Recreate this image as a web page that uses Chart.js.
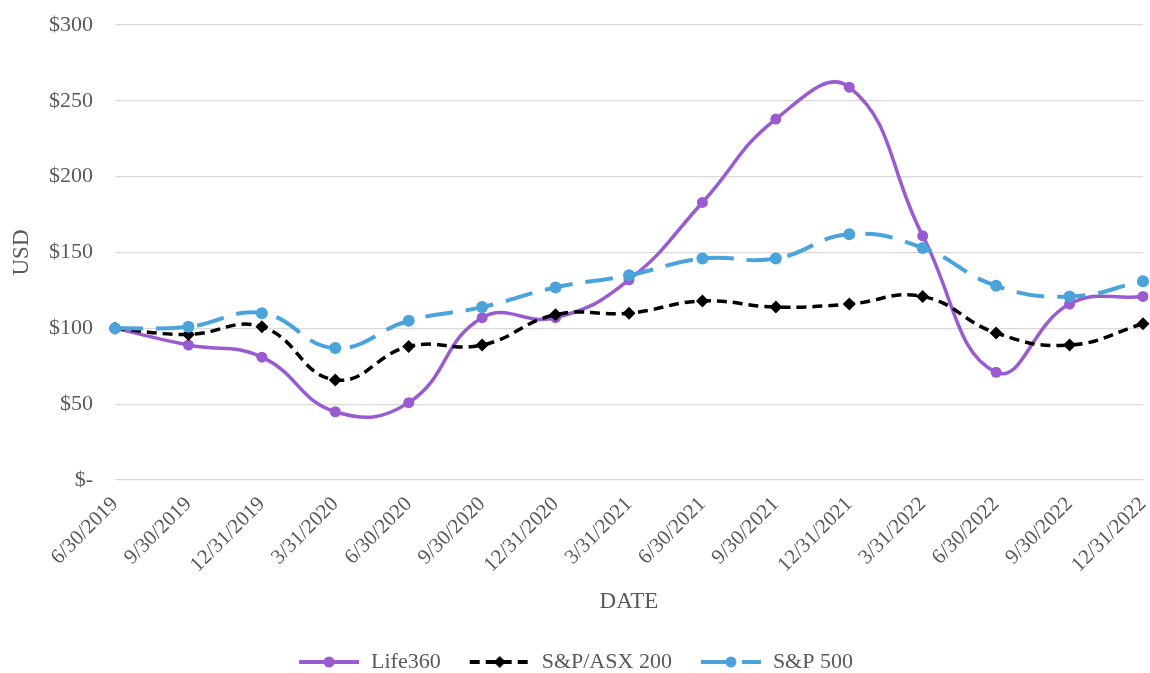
<!DOCTYPE html>
<html>
<head>
<meta charset="utf-8">
<script src="https://cdn.jsdelivr.net/npm/chart.js@4"></script>
<style>
  body { margin: 0; background: #fff; }
  #wrap { width: 1150px; height: 673px; position: relative; }
</style>
</head>
<body>
<div id="wrap"><canvas id="chart"></canvas></div>
<script>
// === Datos ===
const fechas = ['6/30/2019', '9/30/2019', '12/31/2019', '3/31/2020', '6/30/2020', '9/30/2020',
  '12/31/2020', '3/31/2021', '6/30/2021', '9/30/2021', '12/31/2021', '3/31/2022',
  '6/30/2022', '9/30/2022', '12/31/2022'];
const life360 = [100, 89, 81, 45, 51, 107, 107, 132, 183, 238, 259, 161, 71, 116, 121];
const asx200 = [100, 96, 101, 66, 88, 89, 109, 110, 118, 114, 116, 121, 97, 89, 103];
const sp500 = [100, 101, 110, 87, 105, 114, 127, 135, 146, 146, 162, 153, 128, 121, 131];
const yTicks = [0, 50, 100, 150, 200, 250, 300];

const fuente = 'Liberation Serif, Times New Roman, serif';
const gris = '#595959';

// icono de leyenda: linea con marcador
function iconoLeyenda(color, dash, marker) {
  const c = document.createElement('canvas');
  c.width = 62; c.height = 14;
  const ctx = c.getContext('2d');
  ctx.strokeStyle = color;
  ctx.lineWidth = 4;
  ctx.setLineDash(dash);
  ctx.beginPath();
  ctx.moveTo(1, 7); ctx.lineTo(61, 7);
  ctx.stroke();
  ctx.fillStyle = color;
  ctx.beginPath();
  if (marker === 'rombo') {
    ctx.moveTo(31, 1); ctx.lineTo(37, 7); ctx.lineTo(31, 13); ctx.lineTo(25, 7);
  } else {
    ctx.arc(31, 7, 5.5, 0, Math.PI * 2);
  }
  ctx.fill();
  return c;
}

const chart = new Chart(document.getElementById('chart'), {
  type: 'line',
  data: {
    labels: fechas,
    datasets: [
      { label: 'Life360', data: life360, borderColor: '#9A5BD1', backgroundColor: '#9A5BD1',
        borderWidth: 3.5, tension: 0.45, pointRadius: 5.5, pointHoverRadius: 5.5, pointBorderWidth: 0,
        order: 3, pointStyle: 'circle' },
      { label: 'S&P/ASX 200', data: asx200, borderColor: '#000000', backgroundColor: '#000000',
        borderWidth: 3.5, borderDash: [10, 6], tension: 0.45, pointRadius: 6.5, pointHoverRadius: 6.5,
        pointBorderWidth: 0, order: 2, pointStyle: 'rectRot' },
      { label: 'S&P 500', data: sp500, borderColor: '#4BA3DB', backgroundColor: '#4BA3DB',
        borderWidth: 4, borderDash: [28, 13], tension: 0.45, pointRadius: 6, pointHoverRadius: 6,
        pointBorderWidth: 0, order: 1, pointStyle: 'circle' }
    ]
  },
  options: {
    responsive: true,
    maintainAspectRatio: false,
    animation: false,
    layout: { padding: { top: 25, right: 7, left: 8, bottom: -10 } },
    scales: {
      x: {
        grid: { display: false },
        border: { display: false },
        ticks: {
          color: gris, font: { family: fuente, size: 21 },
          minRotation: 45, maxRotation: 45, autoSkip: false, padding: 4
        },
        title: { display: true, text: 'DATE', color: gris, font: { family: fuente, size: 23 },
          padding: { top: 8, bottom: 7 } },
        afterFit: s => { s.height = 143; s.paddingLeft = 0; s.paddingRight = 0; }
      },
      y: {
        min: 0, max: 300,
        afterBuildTicks: s => { s.ticks = yTicks.map(v => ({ value: v })); },
        grid: { color: '#d9d9d9', lineWidth: 1.2, drawTicks: false },
        border: { display: false },
        ticks: {
          color: gris, font: { family: fuente, size: 22 }, padding: 22,
          callback: v => v === 0 ? '$-' : '$' + v
        },
        title: { display: true, text: 'USD', color: gris, font: { family: fuente, size: 23 },
          padding: 0 },
        afterFit: s => { s.width = 107; s.paddingTop = 0; s.paddingBottom = 0; }
      }
    },
    plugins: {
      legend: {
        position: 'bottom',
        labels: {
          color: gris, font: { family: fuente, size: 22 },
          usePointStyle: true, pointStyleWidth: 62, boxHeight: 14, padding: 28,
          sort: (a, b) => a.datasetIndex - b.datasetIndex,
          generateLabels: ch => ch.data.datasets.map((d, i) => ({
            text: d.label,
            fontColor: gris,
            datasetIndex: i,
            hidden: !ch.isDatasetVisible(i),
            lineWidth: 0,
            strokeStyle: d.borderColor,
            fillStyle: d.borderColor,
            pointStyle: iconoLeyenda(d.borderColor, d.borderDash || [],
              d.pointStyle === 'rectRot' ? 'rombo' : 'circulo')
          }))
        }
      },
      tooltip: { enabled: false }
    }
  }
});
</script>
</body>
</html>
